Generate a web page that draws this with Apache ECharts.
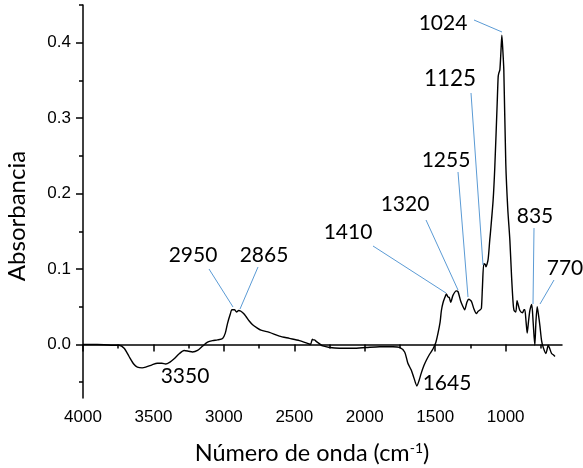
<!DOCTYPE html>
<html><head><meta charset="utf-8">
<script src="https://cdn.jsdelivr.net/npm/echarts@6/dist/echarts.min.js"></script>
<style>html,body{margin:0;padding:0;background:#fff}#c{width:583px;height:468px}</style>
</head><body><div id="c"></div>
<script>
// ---- data ----
const wavenumber = [4000,3900,3800,3744,3708,3673,3640,3614,3580,3555,3510,3472,3440,3413,3380,3353,3315,3282,3250,3223,3187,3150,3116,3080,3045,3009,2990,2974,2955,2943,2925,2910,2895,2879,2860,2843,2820,2796,2765,2737,2677,2606,2535,2464,2400,2385,2372,2365,2357,2345,2322,2298,2250,2180,2085,1990,1895,1800,1753,1717,1694,1670,1650,1630,1615,1599,1580,1563,1540,1516,1495,1480,1465,1456,1445,1430,1421,1410,1400,1390,1374,1350,1338,1320,1305,1291,1275,1262,1243,1225,1208,1195,1180,1172,1165,1155,1145,1140,1125,1113,1107,1089,1077,1060,1053,1048,1041,1033,1027,1020,1013,999,985,970,958,947,940,928,919,910,899,880,870,864,855,847,838,828,815,805,793,785,776,766,757,745,733,714,705,698,690,674,660,650];
const absorbance = [0.000,0.000,-0.001,-0.001,-0.005,-0.016,-0.026,-0.030,-0.031,-0.030,-0.027,-0.025,-0.025,-0.026,-0.023,-0.019,-0.012,-0.008,-0.009,-0.010,-0.008,-0.002,0.003,0.005,0.006,0.008,0.015,0.028,0.040,0.046,0.046,0.043,0.045,0.044,0.041,0.037,0.031,0.026,0.022,0.019,0.016,0.011,0.008,0.005,0.001,0.000,0.007,0.006,0.006,0.004,0.001,-0.002,-0.004,-0.005,-0.005,-0.004,-0.003,-0.003,-0.004,-0.010,-0.025,-0.034,-0.045,-0.055,-0.048,-0.038,-0.028,-0.021,-0.013,-0.006,0.003,0.015,0.030,0.045,0.055,0.063,0.067,0.063,0.062,0.056,0.065,0.071,0.070,0.058,0.051,0.046,0.056,0.060,0.057,0.047,0.041,0.044,0.046,0.048,0.075,0.107,0.106,0.103,0.112,0.138,0.150,0.191,0.235,0.320,0.355,0.360,0.364,0.390,0.410,0.390,0.364,0.240,0.180,0.138,0.090,0.055,0.045,0.043,0.058,0.052,0.045,0.042,0.046,0.046,0.030,0.015,0.030,0.045,0.053,0.030,-0.001,0.030,0.050,0.038,0.025,0.005,-0.004,-0.012,-0.006,-0.001,-0.004,-0.012,-0.014,-0.016];
const xTickLabels = [4000,3500,3000,2500,2000,1500,1000];
const xMinorTicks = [3750,3250,2750,2250,1750,1250,750];
const yTickLabels = [0,0.1,0.2,0.3,0.4];
const yMinorTicks = [-0.05,0.05,0.15,0.25,0.35,0.45];
const peakLabels = ['1024','1125','1255','1320','1410','835','770','2950','2865','3350','1645'];
const xAxisTitle = 'Número de onda (cm';
const xAxisSup = '-1';
const yAxisTitle = 'Absorbancia';

// ---- annotation layout (pixel positions, styling only) ----
const labelPos = [[443,23,21],[450,79,22.5],[446,160,21],[405,204,21],[348,232,21],[535,216,21],[565,268,21],[193,255,21],[264,255,21],[185,376,21],[447,383,21]];
const leaderLines = [[474,20,502,32],[471,93,483,265],[458,172,468,297],[426,220,458,290],[373,246,446,293],[534,228,533,304],[554,280,540,304],[209,269,233,307],[258,267,240,309]];

const chart = echarts.init(document.getElementById('c'), null, {renderer:'canvas'});
const seriesData = wavenumber.map((w,i)=>[w, absorbance[i]]);
const axisFont = 'Liberation Sans';
const annFont = 'Lato';
const graphic = [];
leaderLines.forEach(l=>graphic.push({type:'line', shape:{x1:l[0],y1:l[1],x2:l[2],y2:l[3]}, style:{stroke:'#5B9BD5', lineWidth:1}, z:10}));
peakLabels.forEach((t,i)=>graphic.push({type:'text', x:labelPos[i][0], y:labelPos[i][1], style:{text:t, fill:'#000', font:labelPos[i][2]+'px '+annFont, align:'center', verticalAlign:'middle'}, z:11}));
graphic.push({type:'text', x:17, y:216, rotation:Math.PI/2, style:{text:yAxisTitle, fill:'#000', font:'24px '+annFont, align:'center', verticalAlign:'middle'}});
graphic.push({type:'text', x:312, y:453, style:{text:'{m|'+xAxisTitle+'}{s|'+xAxisSup+'}{m|)}', rich:{m:{fontSize:23.5, fontFamily:annFont, fill:'#000', verticalAlign:'bottom'}, s:{fontSize:14, fontFamily:annFont, fill:'#000', verticalAlign:'top'}}, align:'center', verticalAlign:'middle'}});

const axisLine = {show:true, lineStyle:{color:'#000', width:1.5}};
chart.setOption({
  animation:false,
  backgroundColor:'#fff',
  grid:{left:83, right:21, top:5, bottom:70},
  xAxis:[
    {type:'value', inverse:true, min:600, max:4000, axisLine:axisLine, splitLine:{show:false},
     axisTick:{show:true, inside:false, length:7, lineStyle:{color:'#000', width:1.5}, customValues:xTickLabels},
     axisLabel:{customValues:xTickLabels, formatter:v=>String(Math.round(v)), color:'#000', fontFamily:axisFont, fontSize:17, margin:11}},
    {type:'value', inverse:true, min:600, max:4000, position:'bottom', axisLine:{show:false}, splitLine:{show:false},
     axisTick:{show:true, length:4, lineStyle:{color:'#000', width:1.5}, customValues:xMinorTicks},
     axisLabel:{show:false}}
  ],
  yAxis:[
    {type:'value', min:-0.071, max:0.45, axisLine:axisLine, splitLine:{show:false},
     axisTick:{show:true, length:7, lineStyle:{color:'#000', width:1.5}, customValues:yTickLabels},
     axisLabel:{customValues:yTickLabels, formatter:v=>v.toFixed(1), color:'#000', fontFamily:axisFont, fontSize:17, margin:12}},
    {type:'value', min:-0.071, max:0.45, position:'left', axisLine:{show:false}, splitLine:{show:false},
     axisTick:{show:true, length:4, lineStyle:{color:'#000', width:1.5}, customValues:yMinorTicks},
     axisLabel:{show:false}}
  ],
  series:[{type:'line', data:seriesData, xAxisIndex:0, yAxisIndex:0, showSymbol:false, smooth:0.25,
           lineStyle:{color:'#000', width:1.4}}],
  graphic:graphic
});
</script></body></html>
